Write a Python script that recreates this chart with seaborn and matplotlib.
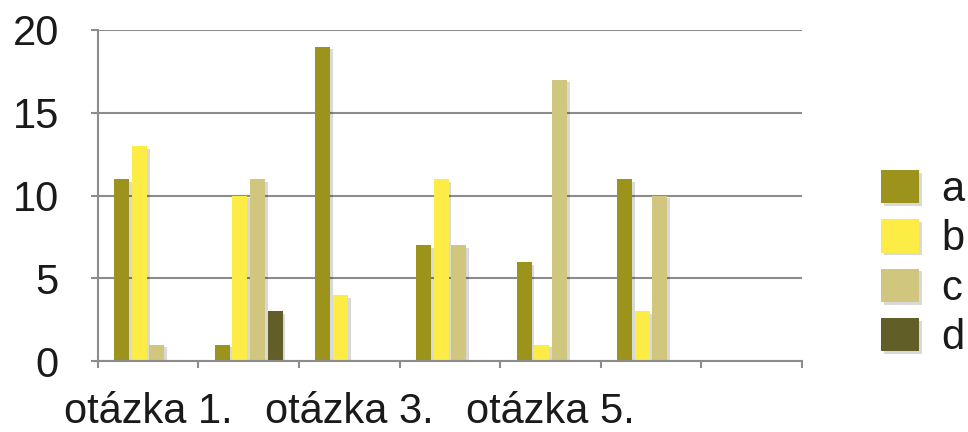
import pandas as pd
import matplotlib.pyplot as plt
import matplotlib.patheffects as pe
from matplotlib.ticker import FixedLocator, NullFormatter
import seaborn as sns

# data
otazky = ["otázka 1.", "otázka 2.", "otázka 3.", "otázka 4.", "otázka 5.", "otázka 6.", "otázka 7."]
moznosti = ["a", "b", "c", "d"]
a = [11, 1, 19, 7, 6, 11, 0]
b = [13, 10, 4, 11, 1, 3, 0]
c = [1, 11, 0, 7, 17, 10, 0]
d = [0, 3, 0, 0, 0, 0, 0]
shown_labels = ["otázka 1.", "", "otázka 3.", "", "otázka 5.", "", ""]
colors = ["#9c931c", "#fdec45", "#d0c67d", "#625e27"]

rows = []
for name, vals in zip(moznosti, [a, b, c, d]):
    for q, v in zip(otazky, vals):
        rows.append({"otazka": q, "moznost": name, "pocet": v})
df = pd.DataFrame(rows)

sns.set_theme(style="white")
plt.rcParams["font.family"] = ["Liberation Sans", "DejaVu Sans"]

fig = plt.figure(figsize=(9.68, 4.32), dpi=100)
ax = fig.add_axes([0.101, 0.164, 0.7275, 0.7666])

sns.barplot(data=df, x="otazka", y="pocet", hue="moznost", palette=colors,
            width=0.7, gap=0.15, linewidth=0, ax=ax, saturation=1)

shadow = [pe.SimplePatchShadow(offset=(2, -2), shadow_rgbFace="#000000", alpha=0.15), pe.Normal()]
for p in ax.patches:
    p.set_path_effects(shadow)

handles, labels = ax.get_legend_handles_labels()
ax.get_legend().remove()

grid_c = "#8c8c8c"
ax.set_ylim(0, 20)
ax.set_xlim(-0.5, 6.5)
ax.set_yticks([0, 5, 10, 15, 20])
ax.yaxis.grid(True, color=grid_c, linewidth=1.5)
ax.set_axisbelow(True)
for s in ["top", "right"]:
    ax.spines[s].set_visible(False)
for s in ["left", "bottom"]:
    ax.spines[s].set_color(grid_c)
    ax.spines[s].set_linewidth(1.5)

# ticks at category boundaries, labels at centres
ax.xaxis.set_major_locator(FixedLocator([i - 0.5 for i in range(len(otazky) + 1)]))
ax.xaxis.set_major_formatter(NullFormatter())
ax.xaxis.set_minor_locator(FixedLocator(list(range(len(otazky)))))
ax.set_xticklabels(shown_labels, minor=True)
ax.tick_params(axis="x", which="major", length=5, width=1.5, color=grid_c, direction="out", bottom=True)
ax.tick_params(axis="x", which="minor", length=0, pad=22, labelsize=30, labelcolor="#1a1a1a", bottom=True)
ax.tick_params(axis="y", length=5, width=1.5, color=grid_c, direction="out", left=True,
               pad=23, labelsize=30, labelcolor="#1a1a1a")
ax.set_xlabel("")
ax.set_ylabel("")

leg = fig.legend(handles, labels, loc="center left", bbox_to_anchor=(0.910, 0.389),
                 frameon=False, fontsize=30, handlelength=0.91, handleheight=0.86,
                 labelspacing=0.22, handletextpad=0.55, borderpad=0, borderaxespad=0)
for t in leg.get_texts():
    t.set_color("#1a1a1a")

fig.savefig("out.png", dpi=100)
